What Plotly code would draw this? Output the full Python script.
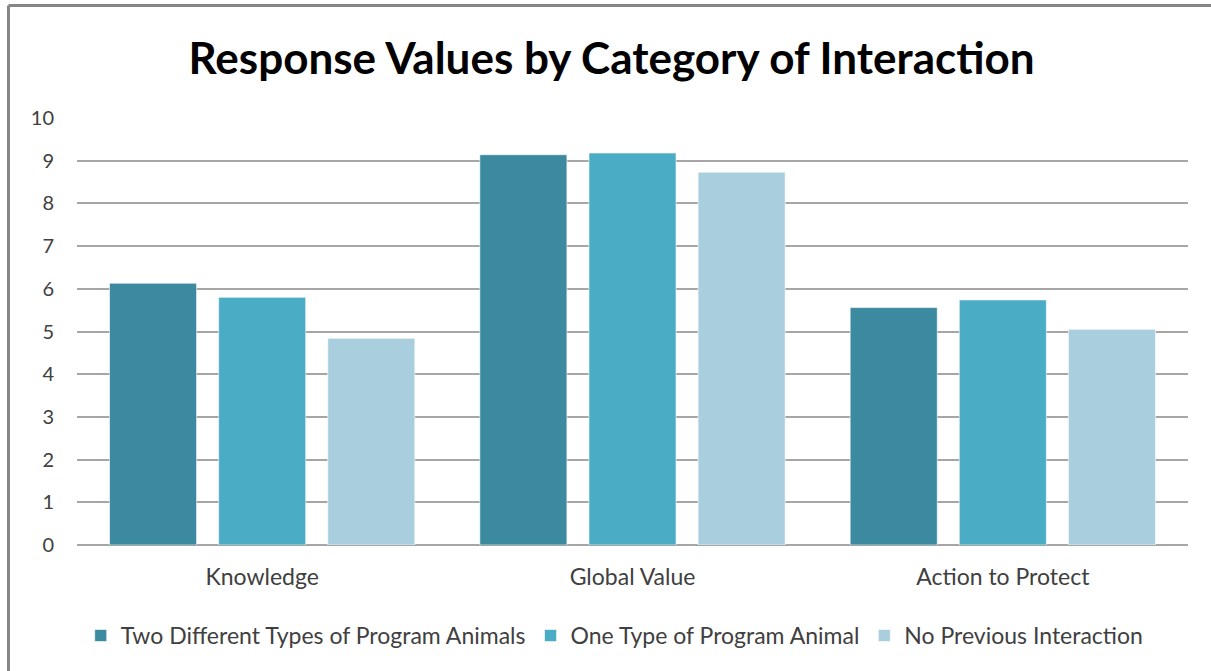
import plotly.graph_objects as go

categories = ["Knowledge", "Global Value", "Action to Protect"]
series_names = ["Two Different Types of Program Animals", "One Type of Program Animal", "No Previous Interaction"]
two_types = [6.13, 9.14, 5.56]
one_type = [5.80, 9.18, 5.74]
no_prev = [4.84, 8.73, 5.05]
colors = ["#3C8AA0", "#4BACC6", "#A9CEDD"]
y_ticks = list(range(0, 11))

fig = go.Figure()
for name, vals, col in zip(series_names, [two_types, one_type, no_prev], colors):
    fig.add_trace(go.Bar(x=categories, y=vals, name=name,
                         marker=dict(color=col, line=dict(color="rgba(255,255,255,0.6)", width=1))))

FONT = "Lato"
fig.update_layout(
    width=1211, height=671,
    paper_bgcolor="white", plot_bgcolor="white",
    margin=dict(l=77, r=23, t=118, b=126),
    barmode="group", bargap=0.116, bargroupgap=0.202,
    title=dict(text="<b>Response Values by Category of Interaction</b>",
               font=dict(family=FONT, size=44, color="black"),
               x=0.505, xanchor="center", y=0.913, yanchor="middle"),
    font=dict(family=FONT, color="#404040"),
    xaxis=dict(showgrid=False, ticks="", tickfont=dict(size=23, color="#404040"),
               showline=False, ticklabelstandoff=16),
    yaxis=dict(range=[0, 10], tickvals=y_ticks, showgrid=True, gridcolor="#A6A6A6",
               gridwidth=1.5, zeroline=True, zerolinecolor="#A6A6A6", zerolinewidth=1.5,
               tickfont=dict(size=20, color="#404040"), ticklabelstandoff=22,
               showline=False, fixedrange=True),
    legend=dict(orientation="h", x=0.484, xanchor="center", y=-0.212, yanchor="middle",
                font=dict(size=23, color="#404040"), itemwidth=30, tracegroupgap=0,
                itemclick=False),
    showlegend=True,
)

# outer chart border (left and top edges visible)
fig.add_shape(type="line", xref="paper", yref="paper", x0=(8.5-77)/1111, x1=(8.5-77)/1111,
              y0=(545-5.5)/427, y1=-0.4, line=dict(color="#868686", width=3))
fig.add_shape(type="line", xref="paper", yref="paper", x0=(8.5-77)/1111, x1=1.1,
              y0=(545-5.5)/427, y1=(545-5.5)/427, line=dict(color="#868686", width=3))

fig.write_html("out.html", config={"displayModeBar": False},
               post_script="document.body.style.margin='0';document.body.style.overflow='hidden';")
